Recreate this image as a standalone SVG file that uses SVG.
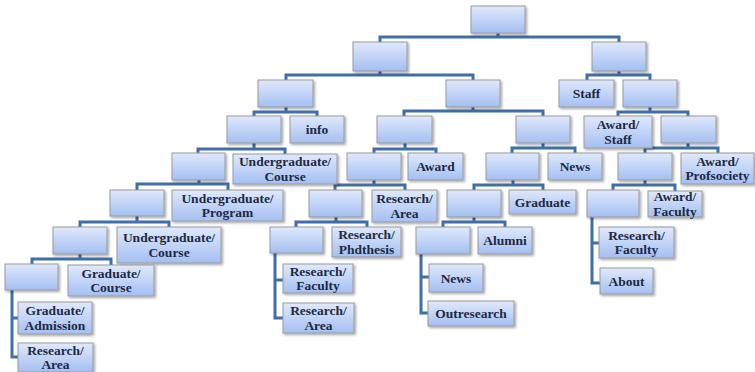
<svg xmlns="http://www.w3.org/2000/svg" width="755" height="372" viewBox="0 0 755 372">
<defs>
<linearGradient id="g" x1="0" y1="0" x2="0" y2="1">
<stop offset="0" stop-color="#e0e9fc"/>
<stop offset="1" stop-color="#a4bff2"/>
</linearGradient>
<filter id="sh" x="-20%" y="-20%" width="140%" height="150%">
<feDropShadow dx="1.5" dy="1.5" stdDeviation="1" flood-color="#000" flood-opacity="0.35"/>
</filter>
</defs>
<style>
rect{fill:url(#g);stroke:#9a9a9a;stroke-width:1;filter:url(#sh)}
text{font-family:"Liberation Serif","Times New Roman",serif;font-weight:bold;font-size:13.5px;fill:#1d2a44;text-anchor:middle}
#connectors path{fill:none;stroke:#3f6ea9;stroke-width:3;stroke-linejoin:miter}
</style>
<rect x="0" y="0" width="755" height="372" style="fill:#fff;stroke:none;filter:none"/>
<g id="connectors">
<path d="M498 33V37 M380 42V37H619V42"/>
<path d="M380 71V75 M286 80V75H473V80"/>
<path d="M619 71V75 M587 80V75H650V80"/>
<path d="M286 107V112 M254 116V112H317V116"/>
<path d="M473 107V111 M404 116V111H543V116"/>
<path d="M650 107V112 M618 116V112H688V116"/>
<path d="M254 143V149 M198 153V149H285V154"/>
<path d="M405 143V149 M374 153V149H436V153"/>
<path d="M543 143V148 M512 153V148H575V153"/>
<path d="M688 143V148 M645 153V148H718V153"/>
<path d="M199 180V184 M137 190V184H228V190"/>
<path d="M374 180V185 M335 190V185H405V190"/>
<path d="M513 180V185 M474 190V185H543V190"/>
<path d="M645 180V185 M613 190V185H675V191"/>
<path d="M137 216V222 M80 227V222H169V227"/>
<path d="M336 217V222 M296 227V222H367V227"/>
<path d="M474 217V222 M443 227V222H505V227"/>
<path d="M80 254V259 M32 264V259H111V265"/>
<path d="M12 290V357H18 M12 318H18"/>
<path d="M275 253V318H283 M275 280H283"/>
<path d="M421 254V313H428 M421 277H429"/>
<path d="M592 217V283H600 M592 243H599"/>
</g>
<g id="n-root"><rect x="471" y="6" width="54" height="27"/></g>
<g id="n-a"><rect x="353" y="42" width="54" height="29"/></g>
<g id="n-b"><rect x="592" y="42" width="54" height="29"/></g>
<g id="n-a1"><rect x="258" y="80" width="55" height="27"/></g>
<g id="n-a2"><rect x="446" y="80" width="54" height="27"/></g>
<g id="n-staff"><rect x="559" y="80" width="55" height="27"/><text x="586.5" y="98">Staff</text></g>
<g id="n-b2"><rect x="623" y="80" width="54" height="27"/></g>
<g id="n-a11"><rect x="227" y="116" width="54" height="27"/></g>
<g id="n-info"><rect x="290" y="116" width="54" height="27"/><text x="317" y="134">info</text></g>
<g id="n-a21"><rect x="377" y="116" width="55" height="27"/></g>
<g id="n-a22"><rect x="516" y="116" width="54" height="27"/></g>
<g id="n-awardstaff"><rect x="584" y="116" width="68" height="32"/><text x="618" y="129">Award/<tspan x="618" dy="14.5">Staff</tspan></text></g>
<g id="n-b22"><rect x="661" y="116" width="55" height="27"/></g>
<g id="n-a111"><rect x="172" y="153" width="53" height="27"/></g>
<g id="n-ugcourse1"><rect x="233" y="154" width="104" height="30"/><text x="285" y="166">Undergraduate/<tspan x="285" dy="14.5">Course</tspan></text></g>
<g id="n-a211"><rect x="347" y="153" width="54" height="27"/></g>
<g id="n-award"><rect x="408" y="153" width="55" height="27"/><text x="435.5" y="171">Award</text></g>
<g id="n-a221"><rect x="486" y="153" width="53" height="27"/></g>
<g id="n-news1"><rect x="548" y="153" width="54" height="27"/><text x="575" y="171">News</text></g>
<g id="n-b221"><rect x="618" y="153" width="54" height="27"/></g>
<g id="n-awardprof"><rect x="681" y="153" width="73" height="31"/><text x="717.5" y="165.5">Award/<tspan x="717.5" dy="14.5">Profsociety</tspan></text></g>
<g id="n-a1111"><rect x="110" y="190" width="54" height="26"/></g>
<g id="n-ugprogram"><rect x="172" y="190" width="111" height="31"/><text x="227.5" y="202.5">Undergraduate/<tspan x="227.5" dy="14.5">Program</tspan></text></g>
<g id="n-a2111"><rect x="309" y="190" width="53" height="27"/></g>
<g id="n-resarea1"><rect x="372" y="190" width="65" height="32"/><text x="404.5" y="203">Research/<tspan x="404.5" dy="14.5">Area</tspan></text></g>
<g id="n-a2211"><rect x="447" y="190" width="54" height="27"/></g>
<g id="n-graduate"><rect x="509" y="190" width="67" height="24"/><text x="542.5" y="206.5">Graduate</text></g>
<g id="n-b2211"><rect x="587" y="190" width="52" height="27"/></g>
<g id="n-awardfac"><rect x="648" y="191" width="54" height="26"/><text x="675" y="201">Award/<tspan x="675" dy="14.5">Faculty</tspan></text></g>
<g id="n-a11111"><rect x="53" y="227" width="54" height="27"/></g>
<g id="n-ugcourse2"><rect x="117" y="227" width="104" height="36"/><text x="169" y="242">Undergraduate/<tspan x="169" dy="14.5">Course</tspan></text></g>
<g id="n-a21111"><rect x="270" y="227" width="53" height="26"/></g>
<g id="n-resphd"><rect x="332" y="227" width="69" height="30"/><text x="366.5" y="239">Research/<tspan x="366.5" dy="14.5">Phdthesis</tspan></text></g>
<g id="n-a22111"><rect x="416" y="227" width="54" height="27"/></g>
<g id="n-alumni"><rect x="478" y="227" width="54" height="27"/><text x="505" y="245">Alumni</text></g>
<g id="n-resfac2"><rect x="599" y="227" width="75" height="31"/><text x="636.5" y="239.5">Research/<tspan x="636.5" dy="14.5">Faculty</tspan></text></g>
<g id="n-a111111"><rect x="5" y="264" width="53" height="26"/></g>
<g id="n-gradcourse"><rect x="68" y="265" width="86" height="31"/><text x="111" y="277.5">Graduate/<tspan x="111" dy="14.5">Course</tspan></text></g>
<g id="n-resfac1"><rect x="283" y="264" width="70" height="29"/><text x="318" y="275.5">Research/<tspan x="318" dy="14.5">Faculty</tspan></text></g>
<g id="n-news2"><rect x="429" y="264" width="54" height="28"/><text x="456" y="282.5">News</text></g>
<g id="n-about"><rect x="600" y="268" width="53" height="26"/><text x="626.5" y="285.5">About</text></g>
<g id="n-gradadm"><rect x="18" y="302" width="74" height="32"/><text x="55" y="315">Graduate/<tspan x="55" dy="14.5">Admission</tspan></text></g>
<g id="n-resarea2"><rect x="283" y="303" width="71" height="30"/><text x="318.5" y="315">Research/<tspan x="318.5" dy="14.5">Area</tspan></text></g>
<g id="n-outresearch"><rect x="428" y="301" width="86" height="25"/><text x="471" y="318">Outresearch</text></g>
<g id="n-resarea3"><rect x="18" y="343" width="75" height="29"/><text x="55.5" y="354.5">Research/<tspan x="55.5" dy="14.5">Area</tspan></text></g>
</svg>
